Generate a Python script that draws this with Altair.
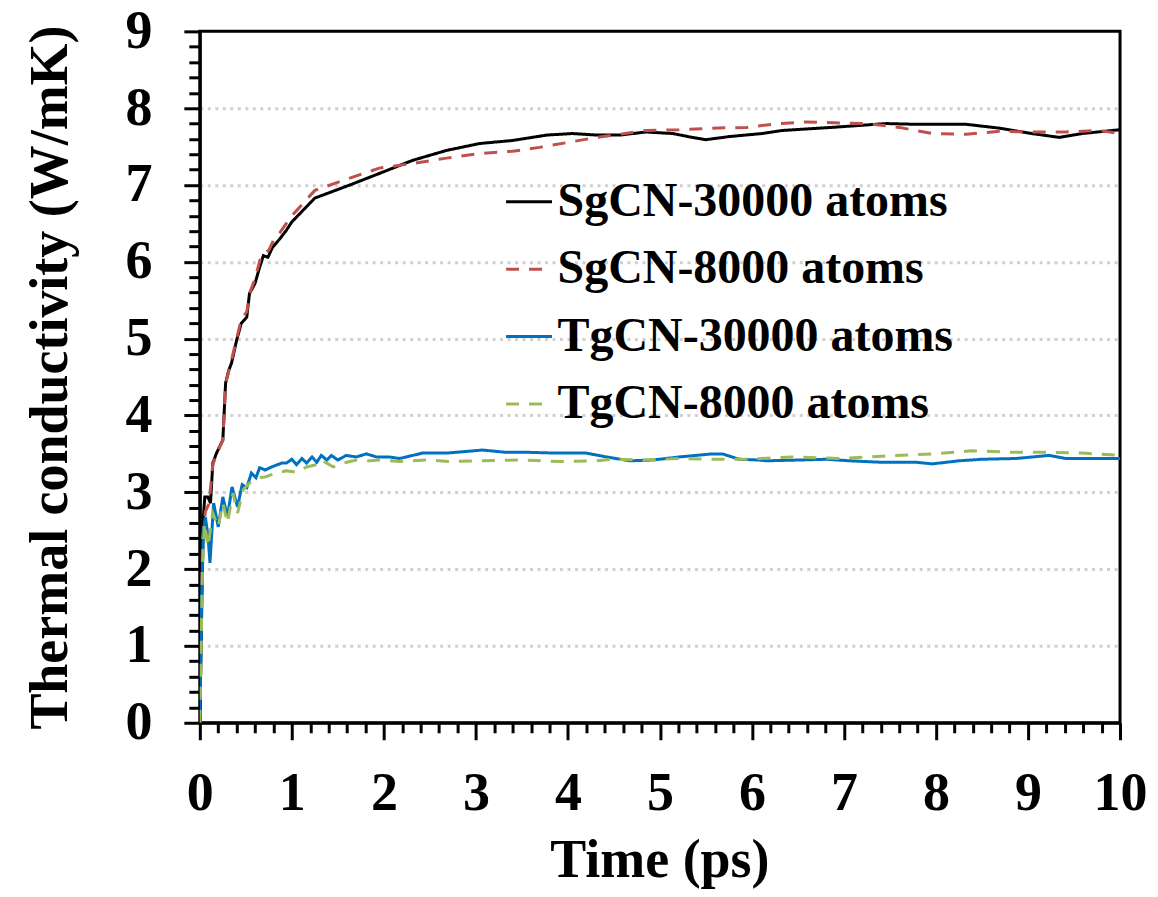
import altair as alt
import pandas as pd

series_names = ["SgCN-30000 atoms", "SgCN-8000 atoms", "TgCN-30000 atoms", "TgCN-8000 atoms"]
series_colors = ["#000000", "#C0504D", "#0070C0", "#9BBB59"]
series_dashes = [[1, 0], [13, 10], [1, 0], [13, 10]]

sg30_t = [0, 0.036, 0.054, 0.087, 0.116, 0.141, 0.181, 0.25, 0.28, 0.315, 0.344, 0.40, 0.45, 0.51, 0.54, 0.60,
          0.65, 0.69, 0.74, 0.79, 0.87, 0.94, 1.0, 1.25, 1.63, 1.95, 2.31, 2.68, 3.04, 3.40, 3.77, 4.05, 4.31,
          4.56, 4.85, 5.14, 5.35, 5.50, 5.75, 6.11, 6.33, 6.87, 7.46, 7.79, 8.33, 8.69, 9.04, 9.34, 9.59, 10.0]
sg30_k = [0, 2.64, 2.94, 2.94, 2.86, 3.38, 3.51, 3.68, 4.42, 4.59, 4.68, 4.98, 5.2, 5.28, 5.59, 5.72,
          5.93, 6.08, 6.06, 6.19, 6.3, 6.41, 6.52, 6.83, 7.0, 7.15, 7.32, 7.45, 7.54, 7.58, 7.65, 7.67, 7.65,
          7.65, 7.69, 7.67, 7.62, 7.59, 7.63, 7.67, 7.71, 7.75, 7.80, 7.79, 7.79, 7.74, 7.67, 7.62, 7.67, 7.72]

sg8_t = [0, 0.03, 0.06, 0.10, 0.14, 0.18, 0.25, 0.28, 0.32, 0.40, 0.45, 0.51, 0.55, 0.60, 0.66, 0.70, 0.75,
         0.80, 0.87, 0.94, 1.0, 1.25, 1.63, 1.95, 2.31, 2.68, 3.04, 3.40, 3.69, 3.98, 4.31, 4.56, 4.85, 5.21,
         5.57, 5.94, 6.30, 6.58, 7.24, 7.60, 7.96, 8.33, 8.69, 9.04, 9.41, 9.77, 10.0]
sg8_k = [0, 2.4, 2.75, 2.85, 3.35, 3.5, 3.68, 4.42, 4.6, 5.0, 5.25, 5.35, 5.62, 5.78, 6.05, 6.12, 6.15,
         6.28, 6.38, 6.5, 6.6, 6.93, 7.09, 7.22, 7.28, 7.35, 7.41, 7.44, 7.49, 7.55, 7.62, 7.66, 7.71, 7.72,
         7.74, 7.75, 7.80, 7.82, 7.80, 7.75, 7.67, 7.66, 7.70, 7.69, 7.69, 7.71, 7.67]

tg30_t = [0, 0.02, 0.04, 0.06, 0.09, 0.11, 0.15, 0.20, 0.25, 0.30, 0.35, 0.41, 0.46, 0.51, 0.56, 0.61, 0.65,
          0.71, 0.78, 0.89, 0.94, 1.00, 1.05, 1.11, 1.16, 1.22, 1.27, 1.32, 1.38, 1.43, 1.50, 1.59, 1.70,
          1.81, 1.92, 2.06, 2.17, 2.42, 2.68, 3.07, 3.33, 3.58, 3.88, 4.20, 4.42, 4.67, 4.92, 5.21, 5.57,
          5.68, 5.86, 6.07, 6.16, 6.51, 6.81, 7.06, 7.42, 7.79, 7.96, 8.25, 8.50, 8.87, 9.23, 9.41, 9.77, 10.0]
tg30_k = [0, 1.64, 2.51, 2.68, 2.42, 2.08, 2.86, 2.55, 2.94, 2.68, 3.07, 2.81, 3.10, 3.06, 3.25, 3.19, 3.32,
          3.29, 3.33, 3.38, 3.38, 3.43, 3.36, 3.44, 3.38, 3.46, 3.39, 3.48, 3.42, 3.48, 3.42, 3.48, 3.46,
          3.50, 3.46, 3.46, 3.44, 3.51, 3.51, 3.55, 3.52, 3.52, 3.51, 3.51, 3.46, 3.41, 3.42, 3.46, 3.50,
          3.50, 3.43, 3.42, 3.41, 3.42, 3.43, 3.41, 3.39, 3.39, 3.37, 3.41, 3.43, 3.44, 3.48, 3.44, 3.44, 3.44]

tg8_t = [0, 0.03, 0.05, 0.09, 0.14, 0.20, 0.25, 0.30, 0.36, 0.41, 0.47, 0.54, 0.63, 0.71, 0.83, 0.94, 1.05,
         1.16, 1.27, 1.32, 1.38, 1.45, 1.56, 1.70, 1.85, 1.95, 2.17, 2.46, 2.74, 3.04, 3.47, 3.94, 4.31,
         4.48, 4.85, 5.21, 5.57, 5.93, 6.43, 6.98, 7.42, 7.96, 8.39, 8.87, 9.23, 9.59, 10.0]
tg8_k = [0, 2.08, 2.6, 2.29, 2.73, 2.55, 2.86, 2.6, 2.99, 2.73, 3.03, 3.12, 3.19, 3.20, 3.25, 3.28, 3.26,
         3.33, 3.36, 3.42, 3.38, 3.33, 3.38, 3.42, 3.41, 3.42, 3.40, 3.42, 3.40, 3.41, 3.42, 3.40, 3.41,
         3.43, 3.42, 3.44, 3.43, 3.43, 3.46, 3.44, 3.47, 3.50, 3.54, 3.52, 3.52, 3.51, 3.48]

x_ticks = [round(i * 0.2, 1) for i in range(51)]
y_ticks = [round(i * 0.2, 1) for i in range(46)]

rows = []
for name, ts, ks in zip(series_names, [sg30_t, sg8_t, tg30_t, tg8_t], [sg30_k, sg8_k, tg30_k, tg8_k]):
    for i, (t, k) in enumerate(zip(ts, ks)):
        rows.append({"time": t, "kappa": k, "series": name, "idx": i})
df = pd.DataFrame(rows)

font = "Liberation Serif"
int_test = "abs(datum.value - round(datum.value)) < 0.001"
label_expr = f"{int_test} ? format(datum.value, 'd') : ''"
grid_test = f"{int_test} && datum.value > 0.5 && datum.value < 8.5"

legend = alt.Legend(
    title=None, orient="none", legendX=305, legendY=146, symbolType="stroke",
    symbolSize=2116, symbolStrokeWidth=3, labelFont=font, labelFontSize=48,
    labelFontWeight="bold", labelColor="black", labelOffset=4, rowPadding=18.5,
    padding=0, labelLimit=600,
)

chart = alt.Chart(df).mark_line(strokeWidth=3, clip=True).encode(
    x=alt.X("time:Q", scale=alt.Scale(domain=[0, 10], nice=False, zero=False),
            axis=alt.Axis(
                title="Time (ps)", values=x_ticks, labelExpr=label_expr,
                tickSize={"condition": {"test": int_test, "value": 17}, "value": 10},
                grid=False, labelOverlap=False, labelFlush=False, labelBound=False,
                labelPadding=27, labelFontSize=54, labelFont=font, labelFontWeight="bold",
                labelColor="black", titleFontSize=54, titleFont=font, titleFontWeight="bold",
                titleColor="black", titleX=460, titleY=154, titleBaseline="alphabetic",
                titleAlign="center", domainColor="black", domainWidth=3, tickColor="black",
                tickWidth=3)),
    y=alt.Y("kappa:Q", scale=alt.Scale(domain=[0, 9], nice=False, zero=False),
            axis=alt.Axis(
                title="Thermal conductivity (W/mK)", values=y_ticks, labelExpr=label_expr,
                tickSize={"condition": {"test": int_test, "value": 16}, "value": 11},
                grid=True, gridColor="#D0D0D0", gridWidth=3, gridDash=[3, 4.5],
                gridOpacity={"condition": {"test": grid_test, "value": 1}, "value": 0},
                labelOverlap=False, labelFlush=False, labelBound=False,
                labelPadding=32, labelFontSize=54, labelFont=font, labelFontWeight="bold",
                labelColor="black", titleFontSize=54, titleFont=font, titleFontWeight="bold",
                titleColor="black", titleX=-133, titleY=346, titleAngle=270,
                titleBaseline="alphabetic", titleAlign="center", domainColor="black",
                domainWidth=3, tickColor="black", tickWidth=3)),
    color=alt.Color("series:N", scale=alt.Scale(domain=series_names, range=series_colors), legend=legend),
    strokeDash=alt.StrokeDash("series:N", scale=alt.Scale(domain=series_names, range=series_dashes),
                              legend=legend),
    order=alt.Order("idx:Q"),
).properties(
    width=921, height=692,
    autosize=alt.AutoSizeParams(type="none"),
    padding={"left": 192, "top": 23, "right": 30, "bottom": 166},
    background="white",
).configure_view(stroke="black", strokeWidth=3)

chart.save("out.html", embed_options={"renderer": "svg", "actions": False})
